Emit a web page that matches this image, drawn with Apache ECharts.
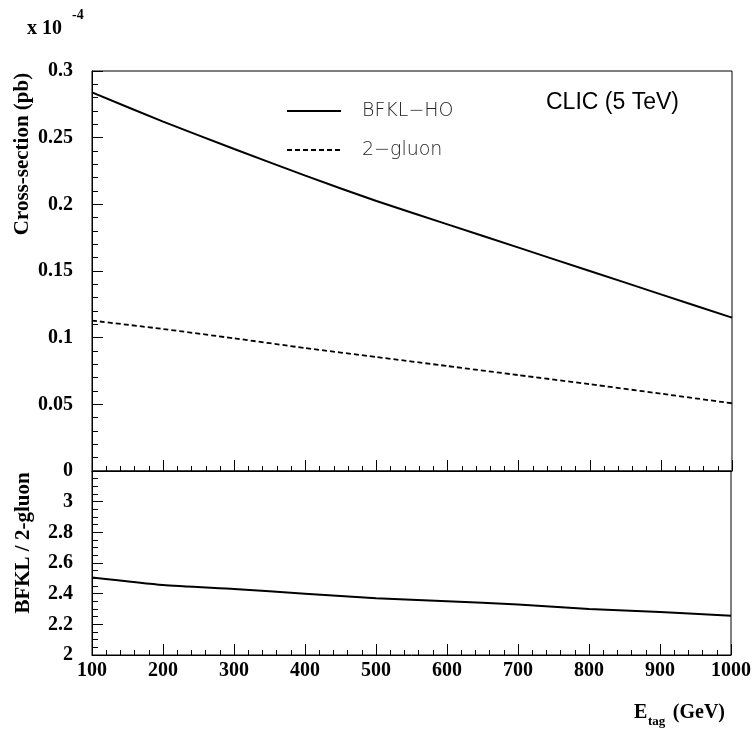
<!DOCTYPE html>
<html>
<head>
<meta charset="utf-8">
<script src="https://cdn.jsdelivr.net/npm/echarts@6/dist/echarts.min.js"></script>
<style>html,body{margin:0;padding:0;background:#fff}#c{width:754px;height:732px}</style>
</head>
<body>
<div id="c"></div>
<script>
// Data (cross-sections in units of 1e-4 pb)
const energies = [100, 200, 300, 400, 500, 600, 700, 800, 900, 1000];
const bfklHO   = [0.284, 0.262, 0.2415, 0.2215, 0.2025, 0.185, 0.1675, 0.15, 0.1325, 0.115];
const twoGluon = [0.1128, 0.1065, 0.0995, 0.0922, 0.0855, 0.0787, 0.0719, 0.0651, 0.058, 0.0508];
const ratio    = [2.505, 2.456, 2.43, 2.40, 2.37, 2.35, 2.33, 2.30, 2.28, 2.256];
const seriesNames = ['BFKL\u2212HO', '2\u2212gluon'];
const xTicks = [100, 1000, 100];      // min, max, interval
const yTopTicks = [0, 0.3, 0.05];
const yBotTicks = [2, 3.2, 0.2];

const pairs = (xs, ys) => xs.map((x, i) => [x, ys[i]]);
const serif = 'Liberation Serif';
const labelStyle = {fontFamily: serif, fontWeight: 'bold', fontSize: 20, color: '#000'};
const axLine = {show: true, onZero: false, lineStyle: {color: '#000', width: 1}};

const chart = echarts.init(document.getElementById('c'), null, {renderer: 'canvas'});
chart.setOption({
  animation: false,
  backgroundColor: '#fff',
  grid: [
    {left: 92, right: 22, top: 71, height: 400, show: true, borderColor: '#000', borderWidth: 1},
    {left: 92, right: 22, top: 471, height: 184, show: true, borderColor: '#000', borderWidth: 1}
  ],
  legend: {
    orient: 'vertical', left: 286, top: 101, padding: 0,
    itemWidth: 54, itemHeight: 20, itemGap: 19,
    data: seriesNames,
    itemStyle: {opacity: 0},
    textStyle: {fontFamily: 'DejaVu Sans', fontSize: 19, fontWeight: 300, color: '#222', padding: [0, 0, 0, 16], lineHeight: 20}
  },
  xAxis: [
    {gridIndex: 0, type: 'value', min: xTicks[0], max: xTicks[1], interval: xTicks[2],
     axisLine: axLine, axisTick: {show: true, inside: true, length: 11, lineStyle: {color: '#000'}},
     minorTick: {show: true, splitNumber: 5, length: 5, lineStyle: {color: '#000'}},
     axisLabel: {show: false}, splitLine: {show: false}},
    {gridIndex: 1, type: 'value', min: xTicks[0], max: xTicks[1], interval: xTicks[2],
     axisLine: axLine, axisTick: {show: true, inside: true, length: 11, lineStyle: {color: '#000'}},
     minorTick: {show: true, splitNumber: 5, length: 5, lineStyle: {color: '#000'}},
     axisLabel: Object.assign({margin: 6, formatter: v => String(v)}, labelStyle), splitLine: {show: false}}
  ],
  yAxis: [
    {gridIndex: 0, type: 'value', min: yTopTicks[0], max: yTopTicks[1], interval: yTopTicks[2],
     axisLine: axLine, axisTick: {show: true, inside: true, length: 11, lineStyle: {color: '#000'}},
     minorTick: {show: true, splitNumber: 5, length: 6, lineStyle: {color: '#000'}},
     axisLabel: Object.assign({margin: 19}, labelStyle), splitLine: {show: false}},
    {gridIndex: 1, type: 'value', min: yBotTicks[0], max: yBotTicks[1], interval: yBotTicks[2],
     axisLine: axLine, axisTick: {show: true, inside: true, length: 11, lineStyle: {color: '#000'}},
     minorTick: {show: true, splitNumber: 4, length: 6, lineStyle: {color: '#000'}},
     axisLabel: Object.assign({margin: 19, formatter: v => (v > 3.1 ? '' : String(+v.toFixed(2)))}, labelStyle),
     splitLine: {show: false}}
  ],
  series: [
    {name: seriesNames[0], type: 'line', xAxisIndex: 0, yAxisIndex: 0, symbol: 'none', smooth: 0.2,
     data: pairs(energies, bfklHO), lineStyle: {color: '#000', width: 2, type: 'solid'}, itemStyle: {color: '#000'}},
    {name: seriesNames[1], type: 'line', xAxisIndex: 0, yAxisIndex: 0, symbol: 'none', smooth: 0.2,
     data: pairs(energies, twoGluon), lineStyle: {color: '#000', width: 1.8, type: [5, 3]}, itemStyle: {color: '#000'}},
    {name: 'ratio', type: 'line', xAxisIndex: 1, yAxisIndex: 1, symbol: 'none', smooth: 0.2,
     data: pairs(energies, ratio), lineStyle: {color: '#000', width: 2}, itemStyle: {color: '#000'}}
  ],
  graphic: [
    {type: 'text', left: 27, top: 19, style: {text: 'x 10', fontFamily: serif, fontWeight: 'bold', fontSize: 20, fill: '#000'}},
    {type: 'text', left: 72, top: 8, style: {text: '-4', fontFamily: serif, fontWeight: 'bold', fontSize: 14, fill: '#000'}},
    {type: 'text', x: 23, y: 154, rotation: Math.PI / 2,
     style: {text: 'Cross-section (pb)', fontFamily: serif, fontWeight: 'bold', fontSize: 21, fill: '#000', align: 'center', verticalAlign: 'middle'}},
    {type: 'text', x: 24, y: 543, rotation: Math.PI / 2,
     style: {text: 'BFKL / 2-gluon', fontFamily: serif, fontWeight: 'bold', fontSize: 21, fill: '#000', align: 'center', verticalAlign: 'middle'}},
    {type: 'text', x: 634, y: 713,
     style: {text: 'E', fontFamily: serif, fontWeight: 'bold', fontSize: 20, fill: '#000', align: 'left', verticalAlign: 'middle'}},
    {type: 'text', x: 648, y: 722,
     style: {text: 'tag', fontFamily: serif, fontWeight: 'bold', fontSize: 13, fill: '#000', align: 'left', verticalAlign: 'middle'}},
    {type: 'text', x: 725, y: 713,
     style: {text: '(GeV)', fontFamily: serif, fontWeight: 'bold', fontSize: 20, fill: '#000', align: 'right', verticalAlign: 'middle'}},
    {type: 'text', x: 546, y: 103,
     style: {text: 'CLIC (5 TeV)', fontFamily: 'Liberation Sans', fontSize: 23, fill: '#000', align: 'left', verticalAlign: 'middle'}}
  ]
});
</script>
</body>
</html>
